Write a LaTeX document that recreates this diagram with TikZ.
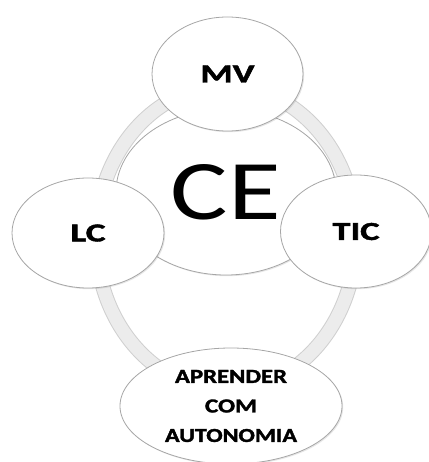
\documentclass[tikz,border=0pt]{standalone}
\usepackage{fontspec}
\setmainfont{Carlito}[BoldFeatures={FakeBold=1.6}]
\usetikzlibrary{shapes.geometric,shadows}
\newcommand{\lbl}[3]{\resizebox{#1}{#2}{\bfseries #3}}
\newcommand{\lblr}[3]{\resizebox{#1}{#2}{#3}}
\begin{document}
\begin{tikzpicture}[x=1pt,y=-1pt,
  bubble/.style={ellipse, draw=gray!70, line width=0.8pt, fill=white, inner sep=0pt,
    drop shadow={opacity=0.2, shadow xshift=1.2pt, shadow yshift=-1.2pt}},
  ringedge/.style={draw=gray!38, line width=15pt},
  ringfill/.style={draw=gray!15, line width=13pt}
  ]
\useasboundingbox (0,0) rectangle (428,462);
% background cycle ring
\coordinate (rc) at (226,238);
\path[ringedge] (rc) ellipse [x radius=130pt, y radius=152pt];
\path[ringfill] (rc) ellipse [x radius=130pt, y radius=152pt];
% centre
\node[bubble, minimum width=220pt, minimum height=166pt] (ce) at (226,192)
  {\lblr{110pt}{55pt}{CE}};
% satellites
\node[bubble, minimum width=151pt, minimum height=114pt] (mv) at (227.5,74)
  {\lbl{54pt}{17pt}{MV}};
\node[bubble, minimum width=152pt, minimum height=110pt] (lc) at (88,233)
  {\lbl{35pt}{17pt}{LC}};
\node[bubble, minimum width=151pt, minimum height=113pt] (tic) at (356,231.5)
  {\lbl{47pt}{17pt}{TIC}};
\node[bubble, minimum width=222pt, minimum height=116pt, align=center,
  font=\fontsize{20pt}{29.5pt}\selectfont] (ap) at (231,406)
  {\lbl{112pt}{13pt}{APRENDER}\\\lbl{52pt}{13pt}{COM}\\\lbl{132pt}{13pt}{AUTONOMIA}};
\end{tikzpicture}
\end{document}
